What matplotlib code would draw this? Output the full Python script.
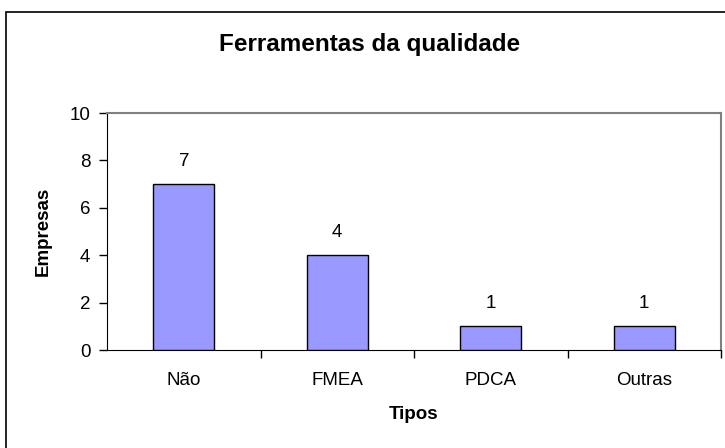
import numpy as np
import matplotlib.pyplot as plt
from matplotlib.patches import Rectangle

# Dados do gráfico
tipos = ['Não', 'FMEA', 'PDCA', 'Outras']
empresas = [7, 4, 1, 1]

plt.rcParams['font.family'] = ['Liberation Sans', 'DejaVu Sans']

fig = plt.figure(figsize=(7.25, 4.48), dpi=100)
ax = fig.add_axes([107 / 725, 1 - 350 / 448, 614 / 725, 237 / 448])

x = np.arange(len(tipos))
ax.bar(x, empresas, width=0.4, color='#9999FF', edgecolor='black', linewidth=1.0, zorder=3)

# Rótulos de valor acima das barras
for xi, v in zip(x, empresas):
    ax.text(xi, v + 0.6, str(v), ha='center', va='bottom', fontsize=13.5)

ax.set_xlim(-0.5, len(tipos) - 0.5)
ax.set_ylim(0, 10)
ax.set_yticks(range(0, 11, 2))
ax.set_xticks(x)
ax.set_xticklabels(tipos)
ax.set_xticks(np.arange(0.5, len(tipos), 1), minor=True)

ax.tick_params(axis='x', which='major', length=0, pad=16, labelsize=13.5)
ax.tick_params(axis='x', which='minor', length=6, width=1, direction='out')
ax.tick_params(axis='y', length=6, width=1, direction='out', labelsize=13.5, pad=6)

# Bordas da área de plotagem
ax.spines['left'].set_color('black')
ax.spines['bottom'].set_color('black')
ax.spines['top'].set_color('#808080')
ax.spines['right'].set_color('#808080')
ax.spines['top'].set_linewidth(1.5)
ax.spines['right'].set_linewidth(1.5)

ax.set_xlabel('Tipos', fontsize=13.5, fontweight='bold', labelpad=12)
ax.set_ylabel('Empresas', fontsize=13.5, fontweight='bold', labelpad=13)

fig.text(370 / 725, 1 - 45 / 448, 'Ferramentas da qualidade', ha='center', va='center',
         fontsize=17.5, fontweight='bold')

# Moldura do gráfico
fig.patches.append(Rectangle((6 / 725, -0.1), 1.2, 1 - 12 / 448 + 0.1,
                             transform=fig.transFigure, fill=False,
                             edgecolor='black', linewidth=1.2))

fig.savefig('out.png', dpi=100)
